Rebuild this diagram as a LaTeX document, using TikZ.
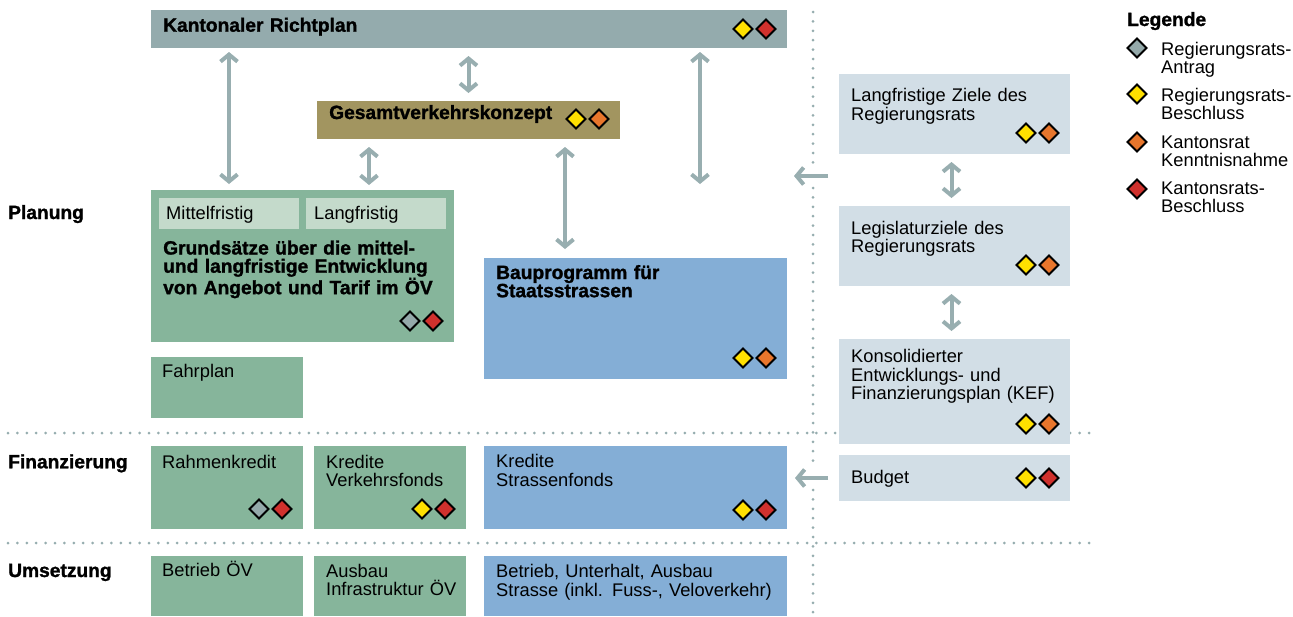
\documentclass[tikz,border=0pt]{standalone}
\usepackage{fontspec}
\setmainfont{Liberation Sans}[BoldFeatures={FakeBold=1.3}]
\usetikzlibrary{arrows.meta}
\usetikzlibrary{calc}

\definecolor{richtgrau}{RGB}{148,171,173}
\definecolor{oliv}{RGB}{162,149,96}
\definecolor{gruen}{RGB}{134,181,155}
\definecolor{hellgruen}{RGB}{196,218,203}
\definecolor{blau}{RGB}{132,174,214}
\definecolor{hellblau}{RGB}{210,222,230}
\definecolor{pfeilgrau}{RGB}{152,174,176}
\definecolor{punktgrau}{RGB}{150,173,175}
\definecolor{rgrau}{RGB}{148,169,170}
\definecolor{rgelb}{RGB}{255,224,0}
\definecolor{rorange}{RGB}{232,118,44}
\definecolor{rrot}{RGB}{208,49,45}

\newcommand{\raute}[2]{\filldraw[raute,fill=#2] #1 +(-9.5,0) -- +(0,-9.5) -- +(9.5,0) -- +(0,9.5) -- cycle;}
\newcommand{\rauten}[4][-20]{%
    \raute{([shift={(-44,#1)}]#2)}{#3}
    \raute{([shift={(-21,#1)}]#2)}{#4}
}

\begin{document}
\begin{tikzpicture}[x=1pt,y=-1pt,
    >={Straight Barb[length=7pt,width=17pt]},
    kasten/.style={anchor=north west,inner sep=0pt,outer sep=0pt},
    txt/.style={anchor=base west,inner sep=0pt,text width=300pt,align=left,font=\fontsize{18.3}{18.3}\selectfont},
    fett/.style={txt,font=\fontsize{19.2}{18.2}\selectfont\bfseries},
    pfeil/.style={draw=pfeilgrau,line width=4pt},
    punkte/.style={draw=punktgrau,line width=3pt,line cap=round,dash pattern=on 0pt off 9.4pt},
    raute/.style={draw=black,line width=1.8pt}]
    \useasboundingbox (0,0) rectangle (1293,616);
    \fill[white] (0,0) rectangle (1293,616);

    \draw[punkte] (8,433) -- (1097,433);
    \draw[punkte] (8,543) -- (1097,543);
    \draw[punkte] (813,12) -- (813,164);
    \draw[punkte] (813,188) -- (813,468);
    \draw[punkte] (813,490) -- (813,616);

    \node[kasten,fill=richtgrau,minimum width=636pt,minimum height=38pt] (richtplan) at (151,10) {};
    \node[kasten,fill=oliv,minimum width=303pt,minimum height=38pt] (gvk) at (317,101) {};
    \node[kasten,fill=gruen,minimum width=303pt,minimum height=152pt] (grund) at (151,190) {};
    \node[kasten,fill=hellgruen,minimum width=140pt,minimum height=31pt] (mittel) at (159,198) {};
    \node[kasten,fill=hellgruen,minimum width=140pt,minimum height=31pt] (langf) at (306,198) {};
    \node[kasten,fill=gruen,minimum width=152pt,minimum height=61pt] (fahrplan) at (151,357) {};
    \node[kasten,fill=blau,minimum width=303pt,minimum height=121pt] (bau) at (484,258) {};
    \node[kasten,fill=gruen,minimum width=152pt,minimum height=83pt] (rahmen) at (151,446) {};
    \node[kasten,fill=gruen,minimum width=152pt,minimum height=83pt] (vfonds) at (314,446) {};
    \node[kasten,fill=blau,minimum width=303pt,minimum height=83pt] (sfonds) at (484,446) {};
    \node[kasten,fill=gruen,minimum width=152pt,minimum height=60pt] (betrieb) at (151,556) {};
    \node[kasten,fill=gruen,minimum width=152pt,minimum height=60pt] (ausbau) at (314,556) {};
    \node[kasten,fill=blau,minimum width=303pt,minimum height=60pt] (unterhalt) at (484,556) {};
    \node[kasten,fill=hellblau,minimum width=231pt,minimum height=80pt] (ziele) at (839,74) {};
    \node[kasten,fill=hellblau,minimum width=231pt,minimum height=80pt] (legis) at (839,206) {};
    \node[kasten,fill=hellblau,minimum width=231pt,minimum height=105pt] (kef) at (839,339) {};
    \node[kasten,fill=hellblau,minimum width=231pt,minimum height=46pt] (budget) at (839,455) {};

    \node[fett] (t-richtplan) at ([shift={(12,21.7)}]richtplan.north west) {Kantonaler Richtplan};
    \node[fett] (t-gvk) at ([shift={(12,18)}]gvk.north west) {Gesamtverkehrskonzept};
    \node[txt] (t-mittel) at ([shift={(7,21)}]mittel.north west) {Mittelfristig};
    \node[txt] (t-langf) at ([shift={(8,21)}]langf.north west) {Langfristig};
    \node[fett] (t-grund) at ([shift={(12,64.5)}]grund.north west) {Grundsätze über die mittel-\\und langfristige Entwicklung\\von Angebot und Tarif im ÖV};
    \node[txt] (t-fahrplan) at ([shift={(11,20.3)}]fahrplan.north west) {Fahrplan};
    \node[fett] (t-bau) at ([shift={(12,21)}]bau.north west) {Bauprogramm für\\Staatsstrassen};
    \node[txt] (t-rahmen) at ([shift={(11,22)}]rahmen.north west) {Rahmenkredit};
    \node[txt] (t-vfonds) at ([shift={(12,22)}]vfonds.north west) {Kredite\\Verkehrsfonds};
    \node[txt] (t-sfonds) at ([shift={(12,21.7)}]sfonds.north west) {Kredite\\Strassenfonds};
    \node[txt] (t-betrieb) at ([shift={(11,20.7)}]betrieb.north west) {Betrieb ÖV};
    \node[txt] (t-ausbau) at ([shift={(12,21)}]ausbau.north west) {Ausbau\\Infrastruktur ÖV};
    \node[txt] (t-unterhalt) at ([shift={(12,21.7)}]unterhalt.north west) {Betrieb, Unterhalt, Ausbau\\Strasse (inkl. Fuss-, Veloverkehr)};
    \node[txt] (t-ziele) at ([shift={(12,27.7)}]ziele.north west) {Langfristige Ziele des\\Regierungsrats};
    \node[txt] (t-legis) at ([shift={(12,28)}]legis.north west) {Legislaturziele des\\Regierungsrats};
    \node[txt] (t-kef) at ([shift={(12,23.7)}]kef.north west) {Konsolidierter\\Entwicklungs- und\\Finanzierungsplan (KEF)};
    \node[txt] (t-budget) at ([shift={(12,28)}]budget.north west) {Budget};

    \node[fett] (planung) at (8,219) {Planung};
    \node[fett] (finanzierung) at (8,468.3) {Finanzierung};
    \node[fett] (umsetzung) at (8,577) {Umsetzung};

    \node[fett] (legende) at (1127,26) {Legende};
    \node[txt] (leg1) at (1161,55) {Regierungsrats-\\Antrag};
    \node[txt] (leg2) at (1161,101) {Regierungsrats-\\Beschluss};
    \node[txt] (leg3) at (1161,148) {Kantonsrat\\Kenntnisnahme};
    \node[txt] (leg4) at (1161,194) {Kantonsrats-\\Beschluss};
    \raute{([shift={(-24,-7)}]leg1.base west)}{rgrau}
    \raute{([shift={(-24,-7)}]leg2.base west)}{rgelb}
    \raute{([shift={(-24,-6)}]leg3.base west)}{rorange}
    \raute{([shift={(-24,-5)}]leg4.base west)}{rrot}

    \rauten[-19]{richtplan.south east}{rgelb}{rrot}
    \rauten{gvk.south east}{rgelb}{rorange}
    \rauten[-21]{grund.south east}{rgrau}{rrot}
    \rauten[-21]{bau.south east}{rgelb}{rorange}
    \rauten{rahmen.south east}{rgrau}{rrot}
    \rauten{vfonds.south east}{rgelb}{rrot}
    \rauten[-19]{sfonds.south east}{rgelb}{rrot}
    \rauten[-21]{ziele.south east}{rgelb}{rorange}
    \rauten[-21]{legis.south east}{rgelb}{rorange}
    \rauten{kef.south east}{rgelb}{rorange}
    \rauten[0]{budget.east}{rgelb}{rrot}

    \coordinate (p-gvk) at ([xshift=52pt]gvk.south west);
    \coordinate (p-rechts) at ([xshift=-87pt]richtplan.south east);
    \coordinate (p-bau) at ([xshift=-55pt]gvk.south east);
    \coordinate (planungsziel) at (794,176);

    \draw[pfeil,<->,shorten <=4pt,shorten >=6pt] (richtplan.south -| mittel.north) -- (grund.north -| mittel.north);
    \draw[pfeil,<->,shorten <=8pt,shorten >=8pt] (richtplan.south -| gvk.north) -- (gvk.north);
    \draw[pfeil,<->,shorten <=8pt,shorten >=5pt] (p-gvk) -- (p-gvk |- grund.north);
    \draw[pfeil,<->,shorten <=4pt,shorten >=6pt] (p-rechts) -- (p-rechts |- grund.north);
    \draw[pfeil,<->,shorten <=8pt,shorten >=9pt] (p-bau) -- (p-bau |- bau.north);
    \draw[pfeil,<->,shorten <=8pt,shorten >=8pt] ([xshift=-3pt]ziele.south) -- ([xshift=-3pt]legis.north);
    \draw[pfeil,<->,shorten <=8pt,shorten >=8pt] ([xshift=-3pt]legis.south) -- ([xshift=-3pt]kef.north);
    \draw[pfeil,->,shorten <=11pt] (ziele.west |- planungsziel) -- (planungsziel);
    \draw[pfeil,->,shorten <=11pt,shorten >=8pt] (budget.west) -- (sfonds.east |- budget.west);
\end{tikzpicture}
\end{document}
